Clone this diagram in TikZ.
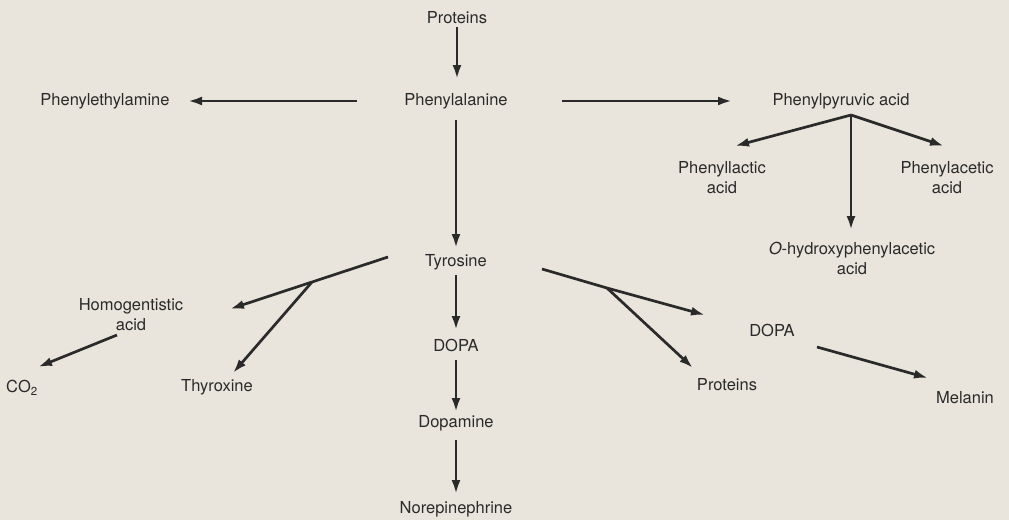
\documentclass[tikz,border=0pt]{standalone}
\usepackage{fontspec}
\setmainfont{TeX Gyre Heros}
\usetikzlibrary{arrows.meta}
\definecolor{paper}{RGB}{233,229,221}
\definecolor{ink}{RGB}{42,42,42}
\begin{document}
\begin{tikzpicture}[x=1pt,y=-1pt,
  lbl/.style={text=ink, font=\fontsize{16.5}{20}\selectfont, inner sep=0pt, align=center},
  arr/.style={draw=ink, line width=2.7pt, -{Latex[length=14pt,width=9pt]}},
  ln/.style={draw=ink, line width=2.7pt}]
\fill[paper] (0,0) rectangle (1009,520);
\useasboundingbox (0,0) rectangle (1009,520);

% nodes
\node[lbl] (prot)  at (457,18)  {Proteins};
\node[lbl] (phe)   at (456,101) {Phenylalanine};
\node[lbl] (pea)   at (105,101) {Phenylethylamine};
\node[lbl] (ppa)   at (841,101) {Phenylpyruvic acid};
\node[lbl] (pla)   at (722,178) {Phenyllactic\\acid};
\node[lbl] (paa)   at (947,178) {Phenylacetic\\acid};
\node[lbl] (oha)   at (852,258) {\textit{O}-hydroxyphenylacetic\\acid};
\node[lbl] (tyr)   at (456,262) {Tyrosine};
\node[lbl] (hga)   at (131,315) {Homogentistic\\acid};
\node[lbl] (co2)   at (22,388)  {CO\textsubscript{2}};
\node[lbl] (thx)   at (217,387) {Thyroxine};
\node[lbl] (dopa)  at (456,345) {DOPA};
\node[lbl] (dpm)   at (456,423) {Dopamine};
\node[lbl] (nor)   at (456,509) {Norepinephrine};
\node[lbl] (dopa2) at (772,330) {DOPA};
\node[lbl] (prot2) at (727,385) {Proteins};
\node[lbl] (mel)   at (965,398) {Melanin};

% branch points and free ends
\coordinate (bp) at (851,115);
\coordinate (c1) at (735,146);
\coordinate (c2) at (944,146);
\coordinate (c3) at (851,230);
\coordinate (tl) at (388,257);
\coordinate (bl) at (312,282);
\coordinate (d1) at (230,309);
\coordinate (d2) at (233,373);
\coordinate (e0) at (117,335);
\coordinate (e1) at (38,367);
\coordinate (tr) at (542,269);
\coordinate (br) at (607,288);
\coordinate (f1) at (705,315);
\coordinate (f2) at (693,368);
\coordinate (g0) at (817,347);
\coordinate (g1) at (928,378);

% vertical chain
\draw[arr, shorten <=9pt,  shorten >=22pt] (prot.center) -- (prot.center |- phe.center);
\draw[arr, shorten <=19pt, shorten >=14pt] (phe.center) -- (tyr.center);
\draw[arr, shorten <=13pt, shorten >=15pt] (tyr.center) -- (dopa.center);
\draw[arr, shorten <=15pt, shorten >=11pt] (dopa.center) -- (dpm.center);
\draw[arr, shorten <=17pt, shorten >=15pt] (dpm.center) -- (nor.center);

% horizontal
\draw[arr, shorten <=99pt,  shorten >=83pt]  (phe.center) -- (pea.center);
\draw[arr, shorten <=106pt, shorten >=109pt] (phe.center) -- (ppa.center);

% phenylpyruvic acid branches
\draw[arr] (bp) -- (c1);
\draw[arr] (bp) -- (c2);
\draw[arr] (bp) -- (c3);

% tyrosine left
\draw[ln] (tl) -- (bl);
\draw[arr] (bl) -- (d1);
\draw[arr] (bl) -- (d2);
\draw[arr] (e0) -- (e1);

% tyrosine right
\draw[ln] (tr) -- (br);
\draw[arr] (br) -- (f1);
\draw[arr] (br) -- (f2);
\draw[arr] (g0) -- (g1);
\end{tikzpicture}
\end{document}
